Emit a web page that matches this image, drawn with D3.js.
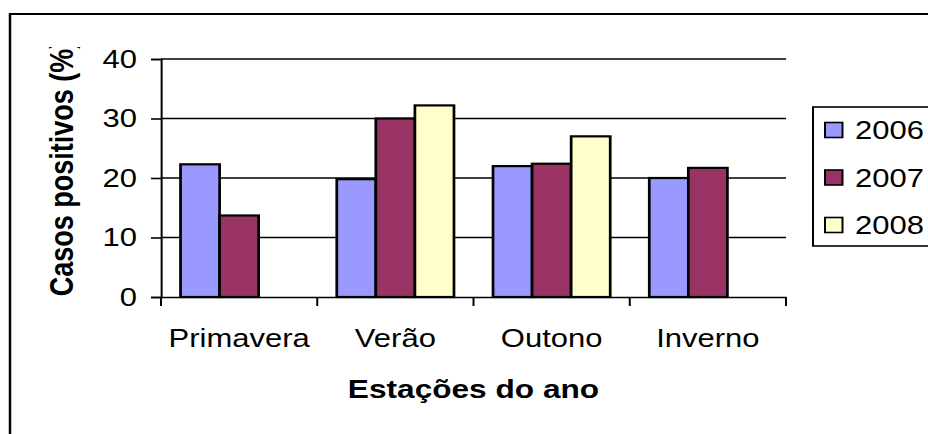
<!DOCTYPE html>
<html>
<head>
<meta charset="utf-8">
<script src="https://cdn.jsdelivr.net/npm/d3@7"></script>
<style>
  body { margin: 0; background: #fff; }
  svg { display: block; font-family: Arial, "Liberation Sans", sans-serif; }
</style>
</head>
<body>
<svg id="chart"></svg>
<script>
const seasons = ["Primavera", "Verão", "Outono", "Inverno"];
const years = ["2006", "2007", "2008"];
const values2006 = [22.3, 19.8, 22.0, 20.0];
const values2007 = [13.7, 30.0, 22.4, 21.7];
const values2008 = [null, 32.2, 27.0, null];
const yTicks = [0, 10, 20, 30, 40];
const colors = ["#9999FF", "#993366", "#FFFFCC"];

const width = 928;
const height = 434;
// the picture is stretched sideways, so draw in a narrower box and let it stretch
const stretch = 1.24;
const vw = width / stretch;
const sx = v => v / stretch;

const svg = d3.select("#chart")
  .attr("width", width)
  .attr("height", height)
  .attr("viewBox", `0 0 ${vw} ${height}`)
  .attr("preserveAspectRatio", "none");

const series = years.map((y, i) => ({
  year: y,
  color: colors[i],
  values: [values2006, values2007, values2008][i]
}));

// outer frame (right and bottom edges fall outside the picture)
svg.append("rect")
  .attr("x", sx(10)).attr("y", 14)
  .attr("width", 2000).attr("height", 2000)
  .attr("fill", "none").attr("stroke", "#000").attr("stroke-width", 2);

const x = d3.scaleBand().domain(seasons).range([sx(161), sx(786)]);
const xSub = d3.scaleBand().domain(years).range([0, x.bandwidth()]).paddingOuter(0.5);
const y = d3.scaleLinear().domain([0, 40]).range([297, 59]);

// gridlines
svg.append("g")
  .selectAll("line")
  .data(yTicks.filter(d => d > 0))
  .enter()
  .append("line")
  .attr("x1", sx(161)).attr("x2", sx(786))
  .attr("y1", d => y(d)).attr("y2", d => y(d))
  .attr("stroke", "#000").attr("stroke-width", 1.6);

// bars
const groups = svg.append("g")
  .selectAll("g")
  .data(series)
  .enter()
  .append("g");

groups.selectAll("rect")
  .data(s => s.values.map((v, i) => ({ season: seasons[i], value: v, year: s.year, color: s.color })).filter(d => d.value != null))
  .enter()
  .append("rect")
  .attr("x", d => x(d.season) + xSub(d.year))
  .attr("width", xSub.bandwidth())
  .attr("y", d => y(d.value))
  .attr("height", d => y(0) - y(d.value))
  .attr("fill", d => d.color)
  .attr("stroke", "#000")
  .attr("stroke-width", 2.2);

// y axis
const yAxis = svg.append("g")
  .attr("transform", `translate(${sx(161)},0)`)
  .call(d3.axisLeft(y).tickValues(yTicks).tickSize(sx(10)).tickPadding(sx(14)));
yAxis.select(".domain").attr("stroke", "#000").attr("stroke-width", 1.6);
yAxis.selectAll(".tick line").attr("stroke", "#000").attr("stroke-width", 1.6);
yAxis.selectAll(".tick text")
  .attr("font-size", 25)
  .attr("fill", "#000")
  .attr("font-family", "Arial, 'Liberation Sans', sans-serif");

// x axis
const xAxis = svg.append("g")
  .attr("transform", `translate(0,${y(0)})`)
  .call(d3.axisBottom(x).tickSize(0).tickPadding(50));
xAxis.select(".domain").attr("stroke", "#000").attr("stroke-width", 1.6);
xAxis.selectAll(".tick text")
  .attr("font-size", 25)
  .attr("fill", "#000")
  .attr("dy", 0)
  .attr("y", 50)
  .attr("font-family", "Arial, 'Liberation Sans', sans-serif");

// category boundary ticks
svg.append("g")
  .selectAll("line")
  .data(seasons.concat(["end"]))
  .enter()
  .append("line")
  .attr("x1", (d, i) => sx(161) + i * x.step())
  .attr("x2", (d, i) => sx(161) + i * x.step())
  .attr("y1", y(0)).attr("y2", y(0) + 9)
  .attr("stroke", "#000").attr("stroke-width", 1.6);

// axis titles
svg.append("text")
  .attr("x", sx(473.5)).attr("y", 398)
  .attr("text-anchor", "middle")
  .attr("font-size", 25.5)
  .attr("font-weight", "bold")
  .text("Estações do ano");

svg.append("clipPath").attr("id", "titleClip")
  .append("rect").attr("x", 0).attr("y", 47).attr("width", vw).attr("height", height);

svg.append("g")
  .attr("clip-path", "url(#titleClip)")
  .append("text")
  .attr("transform", `translate(${sx(73)},${168}) rotate(-90)`)
  .attr("text-anchor", "middle")
  .attr("font-size", 27)
  .attr("font-weight", "bold")
  .text("Casos positivos (%)");

// legend
const legend = svg.append("g");
legend.append("rect")
  .attr("x", sx(813)).attr("y", 107)
  .attr("width", 400).attr("height", 139)
  .attr("fill", "#fff").attr("stroke", "#000").attr("stroke-width", 1.6);

const legendItems = legend.selectAll(".legend-item")
  .data(series)
  .enter()
  .append("g")
  .attr("class", "legend-item")
  .attr("transform", (d, i) => `translate(${sx(825)},${130 + i * 47.5})`);

legendItems.append("rect")
  .attr("x", 0).attr("y", -7.5)
  .attr("width", sx(17.5)).attr("height", 15)
  .attr("fill", d => d.color)
  .attr("stroke", "#000").attr("stroke-width", 1.6);

legendItems.append("text")
  .attr("x", sx(855 - 825))
  .attr("y", 9)
  .attr("font-size", 25)
  .text(d => d.year);
</script>
</body>
</html>
